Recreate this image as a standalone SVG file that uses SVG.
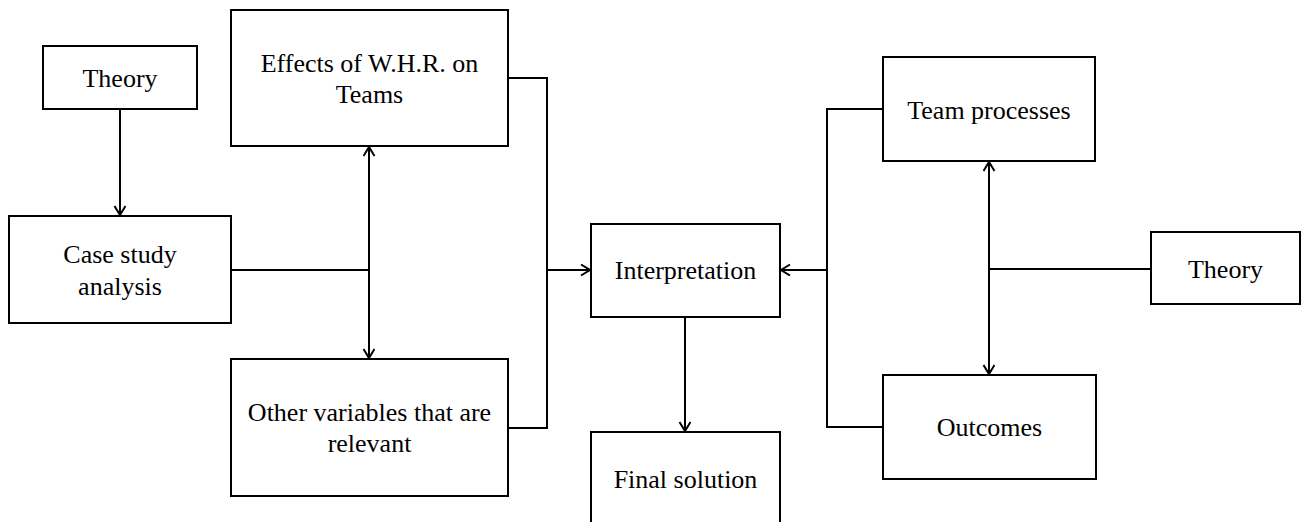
<svg xmlns="http://www.w3.org/2000/svg" width="1303" height="522" viewBox="0 0 1303 522">
<style>
.box{fill:#fff;stroke:#000;stroke-width:2}
.t{font-family:"Liberation Serif","Times New Roman",serif;font-size:26px;fill:#000;text-anchor:middle}
.c{fill:none;stroke:#000;stroke-width:2}
</style>
<defs>
<marker id="ah" markerWidth="14" markerHeight="14" refX="10" refY="6" orient="auto-start-reverse" markerUnits="userSpaceOnUse">
<path d="M1,0.5 L10,6 L1,11.5" fill="none" stroke="#000" stroke-width="2"/>
</marker>
</defs>
<g id="connectors">
<line class="c" x1="120" y1="109" x2="120" y2="215" marker-end="url(#ah)"/>
<line class="c" x1="231" y1="270" x2="369" y2="270"/>
<line class="c" x1="369" y1="147" x2="369" y2="358" marker-start="url(#ah)" marker-end="url(#ah)"/>
<polyline class="c" points="508,78 547,78 547,428 508,428"/>
<line class="c" x1="547" y1="270" x2="590" y2="270" marker-end="url(#ah)"/>
<line class="c" x1="685" y1="317" x2="685" y2="431" marker-end="url(#ah)"/>
<polyline class="c" points="883,109 827,109 827,427 883,427"/>
<line class="c" x1="827" y1="270" x2="781" y2="270" marker-end="url(#ah)"/>
<line class="c" x1="989" y1="162" x2="989" y2="374" marker-start="url(#ah)" marker-end="url(#ah)"/>
<line class="c" x1="989" y1="269" x2="1151" y2="269"/>
</g>
<g id="theory-left"><rect class="box" x="43" y="46" width="154" height="63"/><text class="t" x="120" y="87">Theory</text></g>
<g id="case-study"><rect class="box" x="9" y="216" width="222" height="107"/><text class="t" x="120" y="263">Case study</text><text class="t" x="120" y="295">analysis</text></g>
<g id="effects"><rect class="box" x="231" y="10" width="277" height="136"/><text class="t" x="369.5" y="72">Effects of W.H.R. on</text><text class="t" x="369.5" y="103">Teams</text></g>
<g id="other"><rect class="box" x="231" y="359" width="277" height="137"/><text class="t" x="369.5" y="421">Other variables that are</text><text class="t" x="369.5" y="452">relevant</text></g>
<g id="interpretation"><rect class="box" x="591" y="224" width="189" height="93"/><text class="t" x="685.5" y="279">Interpretation</text></g>
<g id="final"><rect class="box" x="591" y="432" width="189" height="100"/><text class="t" x="685.5" y="488">Final solution</text></g>
<g id="team-processes"><rect class="box" x="883" y="57" width="212" height="104"/><text class="t" x="989" y="119">Team processes</text></g>
<g id="outcomes"><rect class="box" x="883" y="375" width="213" height="104"/><text class="t" x="989.5" y="436">Outcomes</text></g>
<g id="theory-right"><rect class="box" x="1151" y="232" width="149" height="72"/><text class="t" x="1225.5" y="278">Theory</text></g>
</svg>
